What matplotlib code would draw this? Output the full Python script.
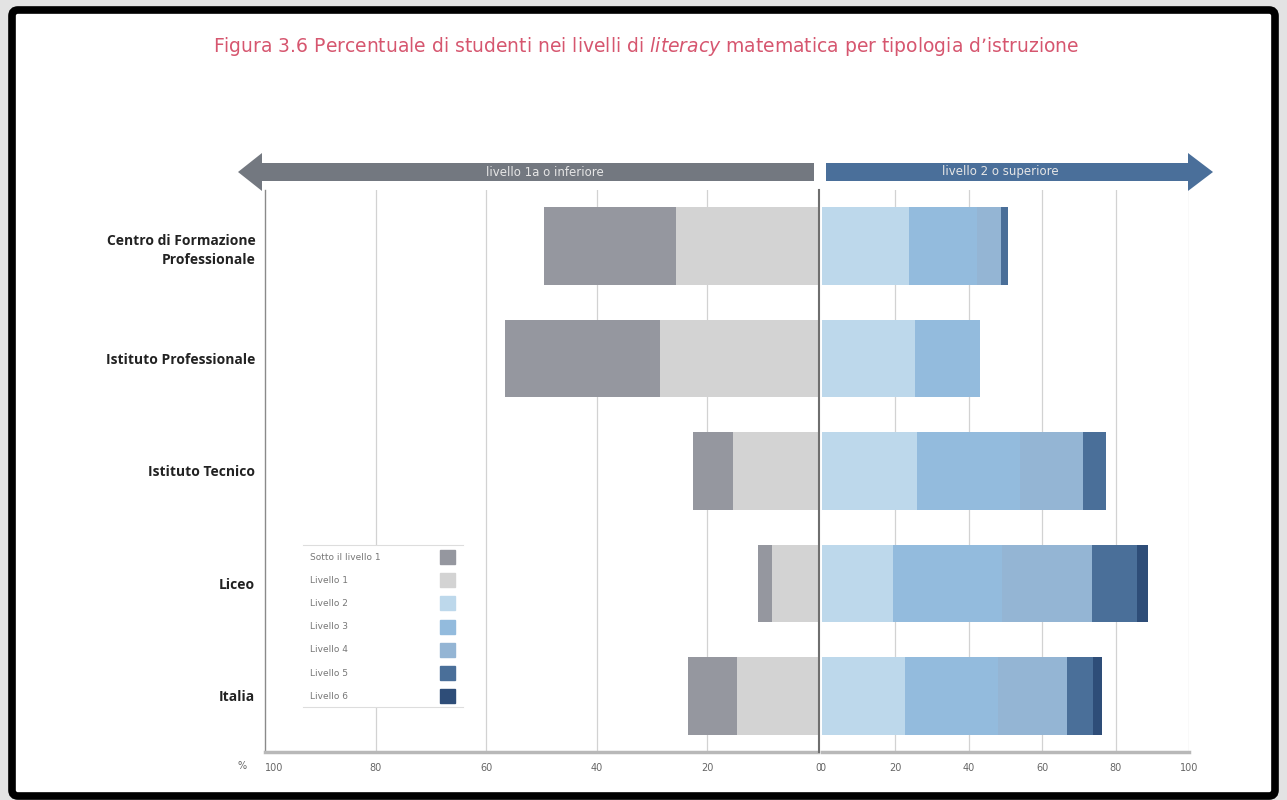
import matplotlib.pyplot as plt
import matplotlib.patches as mpatches

# data (percent of students per level)
categories = ["Centro di Formazione\nProfessionale", "Istituto Professionale",
              "Istituto Tecnico", "Liceo", "Italia"]
sotto = [23.8, 28.0, 7.2, 2.5, 8.9]
liv1 = [25.7, 28.6, 15.4, 8.3, 14.6]
liv2 = [23.7, 25.3, 25.9, 19.3, 22.6]
liv3 = [18.5, 17.8, 28.1, 29.7, 25.4]
liv4 = [6.6, 0.0, 17.1, 24.6, 18.8]
liv5 = [1.9, 0.0, 6.3, 12.2, 7.0]
liv6 = [0.0, 0.0, 0.0, 3.0, 2.5]

legend_labels = ["Sotto il livello 1", "Livello 1", "Livello 2", "Livello 3",
                 "Livello 4", "Livello 5", "Livello 6"]
colors = ["#95979f", "#d3d3d3", "#bdd8eb", "#93bbdd", "#94b5d4", "#4a6f99", "#2e4d78"]
left_ticks = [100, 80, 60, 40, 20, 0]
right_ticks = [0, 20, 40, 60, 80, 100]

W, H = 1287, 800
fig = plt.figure(figsize=(W / 100, H / 100), dpi=100, facecolor="#e3e3e3")

def box(x0, x1, y0, y1):
    # pixel box (top-left origin) -> figure fraction rect
    return [x0 / W, 1 - y1 / H, (x1 - x0) / W, (y1 - y0) / H]

# background layer: frame, title, arrows
bg = fig.add_axes([0, 0, 1, 1], zorder=0)
bg.set_xlim(0, W)
bg.set_ylim(H, 0)
bg.axis("off")
bg.add_patch(mpatches.FancyBboxPatch((12, 10), W - 24, 786, boxstyle="round,pad=0,rounding_size=6",
                                     facecolor="white", edgecolor="black", linewidth=5.5))
bg.text(646, 47, "Figura 3.6 Percentuale di studenti nei livelli di $\\it{literacy}$ matematica per tipologia d\u2019istruzione",
        ha="center", va="center", fontsize=13.5, color="#d6566f")
bg.add_patch(mpatches.FancyArrow(814, 172, -552, 0, width=18, head_width=38, head_length=24,
                                 length_includes_head=False, color="#737880", lw=0))
bg.add_patch(mpatches.FancyArrow(826, 172, 362, 0, width=18, head_width=38, head_length=25,
                                 length_includes_head=False, color="#4a6f9a", lw=0))
bg.text(545, 172, "livello 1a o inferiore", ha="center", va="center", fontsize=8.5, color="#e6e6e6")
bg.text(1000, 172, "livello 2 o superiore", ha="center", va="center", fontsize=8.5, color="#e6e6e6")
bg.text(242, 766, "%", ha="center", va="center", fontsize=7, color="#666666")

axL = fig.add_axes(box(265, 818, 190, 752), zorder=1)
axR = fig.add_axes(box(822, 1189, 190, 752), zorder=1)
ypos = list(range(len(categories)))
bh = 0.69

# left side: Livello 1 next to zero, Sotto il livello 1 further out
axL.barh(ypos, liv1, height=bh, color=colors[1], zorder=2)
axL.barh(ypos, sotto, left=liv1, height=bh, color=colors[0], zorder=2)

# right side: stacked Livello 2..6
left = [0.0] * len(categories)
for vals, c in zip([liv2, liv3, liv4, liv5, liv6], colors[2:]):
    axR.barh(ypos, vals, left=left, height=bh, color=c, zorder=2)
    left = [a + b for a, b in zip(left, vals)]

for ax, ticks in [(axL, left_ticks), (axR, right_ticks)]:
    ax.set_facecolor("none")
    ax.set_ylim(len(categories) - 0.5, -0.5)
    ax.set_xlim(0, 100)
    ax.set_xticks(ticks)
    ax.set_xticklabels([str(t) for t in ticks])
    ax.tick_params(axis="x", length=0, labelsize=7, colors="#666666", pad=8)
    for t in ticks:
        if 0 < t < 100:
            ax.axvline(t, color="#d2d2d2", lw=0.9, zorder=1)
    for s in ["top", "left", "right"]:
        ax.spines[s].set_visible(False)
    ax.spines["bottom"].set_color("#b8b8b8")
    ax.spines["bottom"].set_linewidth(2.5)

axL.invert_xaxis()
axL.set_yticks(ypos)
axL.set_yticklabels(categories, fontfamily="Open Sans", fontweight="bold", fontsize=10,
                    color="#222222", linespacing=1.45)
axL.tick_params(axis="y", length=0, pad=7)
axL.spines["left"].set_visible(True)
axL.spines["left"].set_color("#8a8a8a")
axL.spines["left"].set_linewidth(1.0)
axL.get_xticklabels()[0].set_ha("left")

axR.set_yticks([])
axR.spines["left"].set_visible(True)
axR.spines["left"].set_color("#6f6f6f")
axR.spines["left"].set_linewidth(1.5)
axR.spines["left"].set_position(("outward", 2))
axR.axvline(100, color="#d2d2d2", lw=0.9, zorder=1)

# legend box
axLeg = fig.add_axes(box(303, 463, 545, 707), zorder=3)
axLeg.set_xlim(303, 463)
axLeg.set_ylim(707, 545)
axLeg.set_xticks([])
axLeg.set_yticks([])
for s in ["left", "right"]:
    axLeg.spines[s].set_visible(False)
for s in ["top", "bottom"]:
    axLeg.spines[s].set_color("#dddddd")
for i, (lab, c) in enumerate(zip(legend_labels, colors)):
    y = 557 + i * 23.2
    axLeg.text(310, y, lab, ha="left", va="center", fontsize=6.5, color="#777777")
    axLeg.add_patch(mpatches.Rectangle((440, y - 7), 15, 14, color=c))

fig.savefig("out.png", dpi=100, facecolor=fig.get_facecolor())
